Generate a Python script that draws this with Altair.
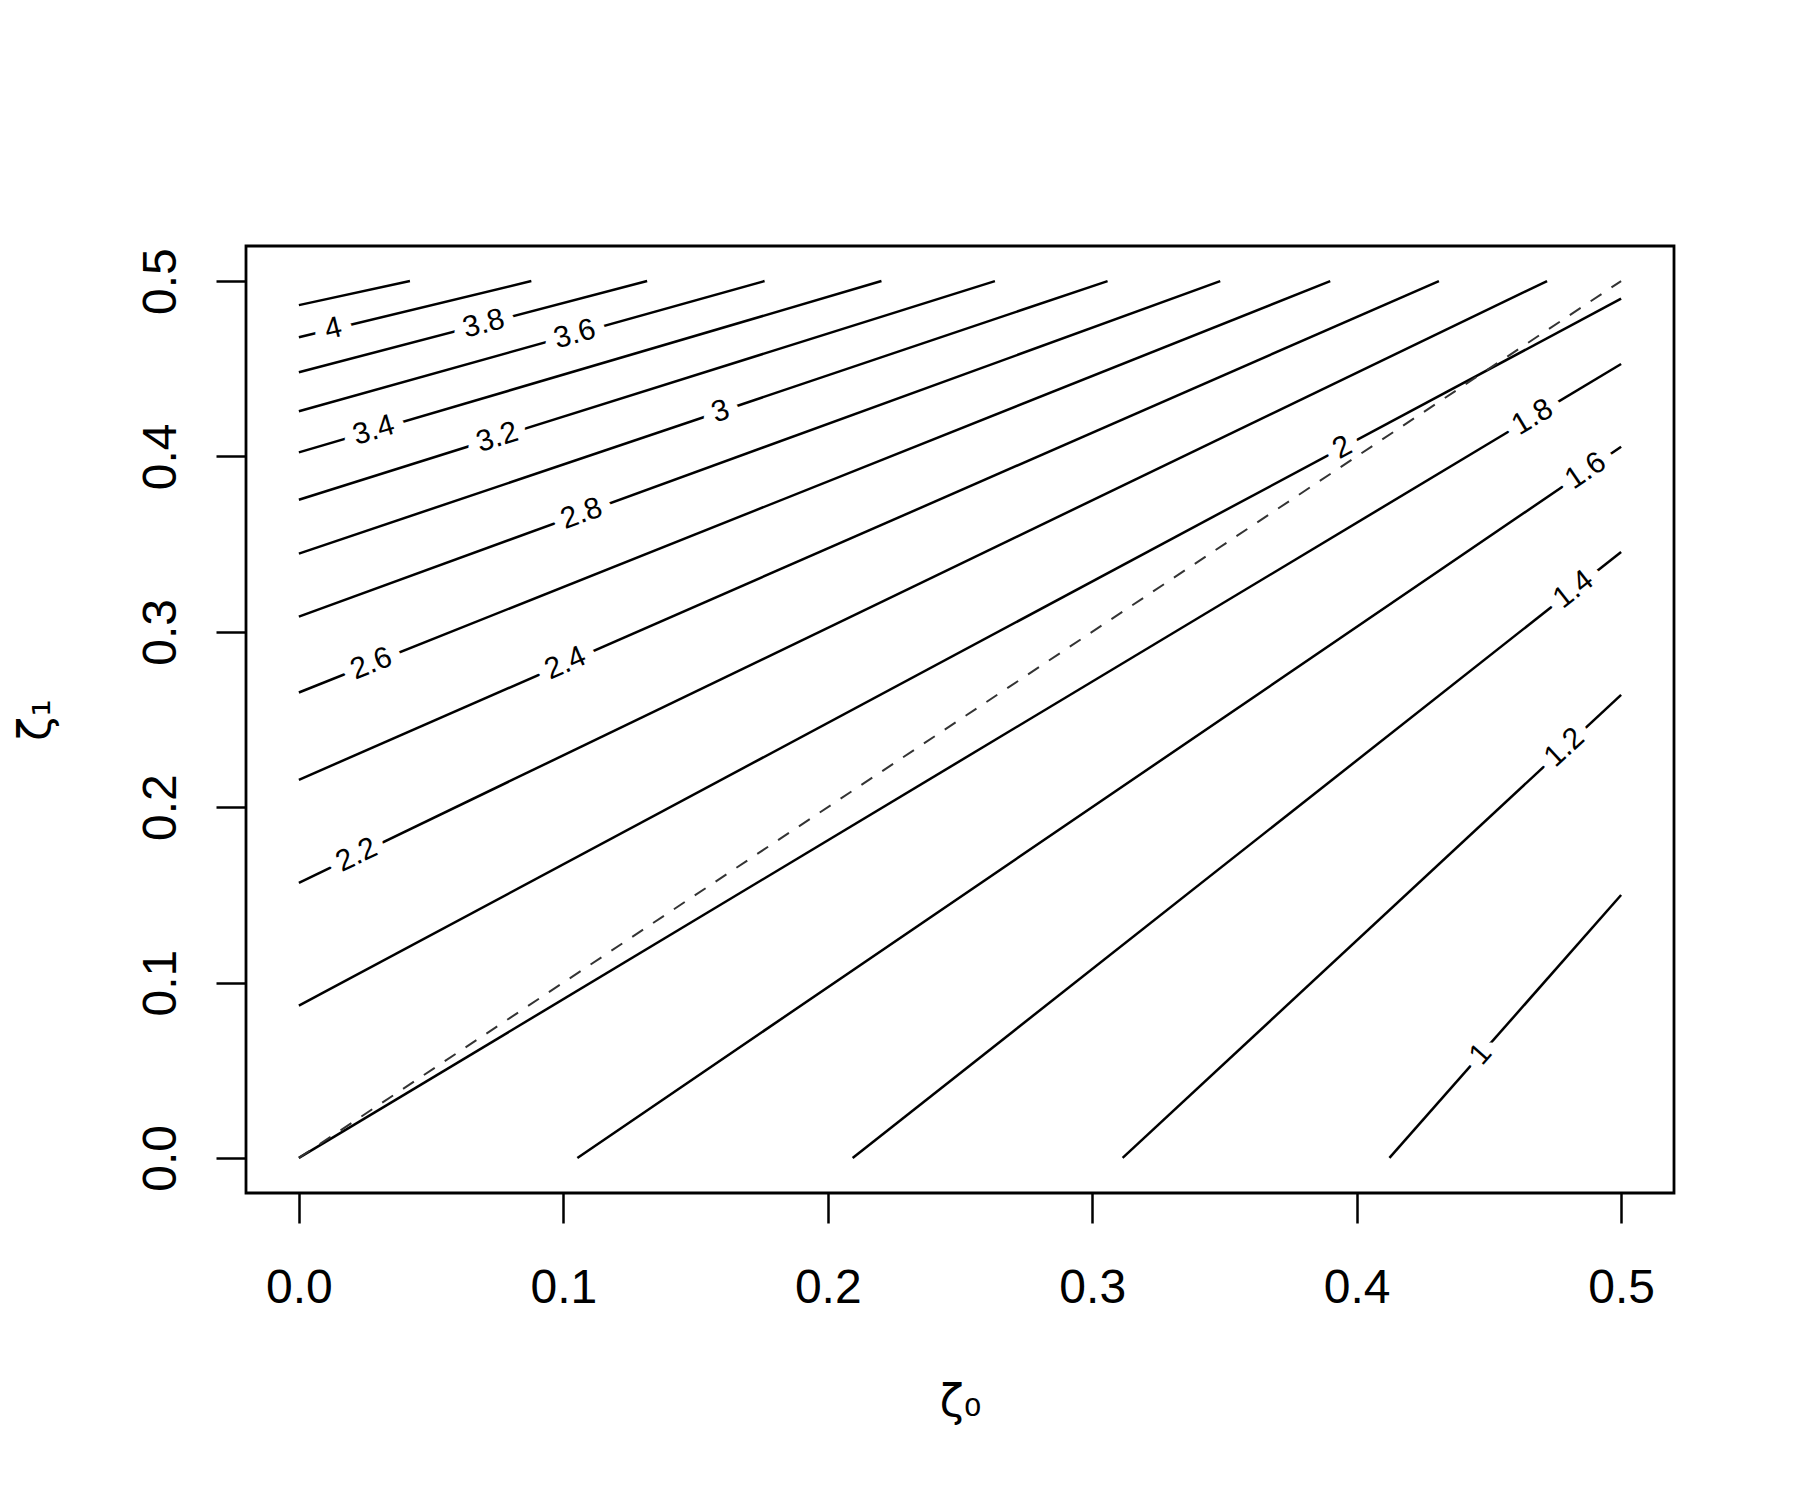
import math
import altair as alt
import pandas as pd

# ---- data ----
levels = [1.0, 1.2, 1.4, 1.6, 1.8, 2.0, 2.2, 2.4, 2.6, 2.8, 3.0, 3.2, 3.4, 3.6, 3.8, 4.0, 4.2]
start_x = [0.4124, 0.3115, 0.2094, 0.1053, 0.0, 0.0, 0.0, 0.0, 0.0, 0.0, 0.0, 0.0, 0.0, 0.0, 0.0, 0.0, 0.0]
start_y = [0.0, 0.0, 0.0, 0.0, 0.0, 0.0868, 0.1569, 0.2156, 0.2654, 0.3087, 0.3446, 0.3753, 0.4023, 0.4258, 0.448, 0.468, 0.4863]
end_x = [0.5, 0.5, 0.5, 0.5, 0.5, 0.5, 0.472, 0.4311, 0.390, 0.3484, 0.3058, 0.2632, 0.2203, 0.1761, 0.1317, 0.0879, 0.042]
end_y = [0.1499, 0.264, 0.3455, 0.4055, 0.4527, 0.490, 0.5, 0.5, 0.5, 0.5, 0.5, 0.5, 0.5, 0.5, 0.5, 0.5, 0.5]
# label position along each line (x in data units); None = unlabeled
label_x = [0.4469, 0.4786, 0.482, 0.4866, 0.4665, 0.3946, 0.0218, 0.1008, 0.0274, 0.1069, 0.1594,
           0.075, 0.0283, 0.1043, 0.0699, 0.013, None]
label_text = ["1", "1.2", "1.4", "1.6", "1.8", "2", "2.2", "2.4", "2.6", "2.8", "3", "3.2", "3.4", "3.6", "3.8", "4", ""]

diag_x = [0.0, 0.5]
diag_y = [0.0, 0.5]

x_ticks = [0.0, 0.1, 0.2, 0.3, 0.4, 0.5]
y_ticks = [0.0, 0.1, 0.2, 0.3, 0.4, 0.5]
domain = [-0.02, 0.52]

W, H = 1428, 947
sx = W / (domain[1] - domain[0])
sy = H / (domain[1] - domain[0])

# ---- tables ----
rows = []
for i, lv in enumerate(levels):
    rows.append({"level": lv, "ord": 0, "x": start_x[i], "y": start_y[i]})
    rows.append({"level": lv, "ord": 1, "x": end_x[i], "y": end_y[i]})
lines_df = pd.DataFrame(rows)

lab_rows = []
for i, lv in enumerate(levels):
    if label_x[i] is None:
        continue
    t = (label_x[i] - start_x[i]) / (end_x[i] - start_x[i])
    ly = start_y[i] + t * (end_y[i] - start_y[i])
    ang = math.degrees(math.atan2((end_y[i] - start_y[i]) * sy, (end_x[i] - start_x[i]) * sx))
    lab_rows.append({"x": label_x[i], "y": ly, "text": label_text[i], "angle": (360 - ang) % 360})
labels_df = pd.DataFrame(lab_rows)

diag_df = pd.DataFrame({"x": diag_x, "y": diag_y})

xs = alt.Scale(domain=domain, nice=False, zero=False)
ys = alt.Scale(domain=domain, nice=False, zero=False)

x_axis = alt.Axis(values=x_ticks, format=".1f", title="ζ₀", grid=False, domain=False,
                  tickSize=30, tickWidth=2.5, tickColor="black",
                  labelFontSize=48, labelFont="Liberation Sans", labelColor="black",
                  labelBaseline="alphabetic", labelPadding=79,
                  titleFont="DejaVu Sans", titleFontSize=44, titleFontWeight="normal",
                  titleColor="black", titleBaseline="alphabetic", titleAlign="center",
                  titleX=W / 2, titleY=222)
y_axis = alt.Axis(values=y_ticks, format=".1f", title="ζ₁", grid=False, domain=False,
                  tickSize=30, tickWidth=2.5, tickColor="black",
                  labelFontSize=48, labelFont="Liberation Sans", labelColor="black",
                  labelAngle=270, labelAlign="center", labelBaseline="alphabetic", labelPadding=41,
                  titleFont="DejaVu Sans", titleFontSize=44, titleFontWeight="normal",
                  titleColor="black", titleAngle=270, titleBaseline="alphabetic", titleAlign="center",
                  titleX=-197, titleY=H / 2)

lines = alt.Chart(lines_df).mark_line(color="black", strokeWidth=2.5).encode(
    x=alt.X("x:Q", scale=xs, axis=x_axis),
    y=alt.Y("y:Q", scale=ys, axis=y_axis),
    detail="level:N",
    order="ord:Q",
)

halo = alt.Chart(labels_df).mark_text(
    font="Liberation Sans", fontSize=30, color="white", stroke="white", strokeWidth=22,
    strokeJoin="round", align="center", baseline="middle"
).encode(
    x=alt.X("x:Q", scale=xs),
    y=alt.Y("y:Q", scale=ys),
    text="text:N",
    angle=alt.Angle("angle:Q", scale=None),
)

labels = alt.Chart(labels_df).mark_text(
    font="Liberation Sans", fontSize=30, color="black", align="center", baseline="middle"
).encode(
    x=alt.X("x:Q", scale=xs),
    y=alt.Y("y:Q", scale=ys),
    text="text:N",
    angle=alt.Angle("angle:Q", scale=None),
)

diag = alt.Chart(diag_df).mark_line(color="#333333", strokeWidth=2, strokeDash=[13, 12]).encode(
    x=alt.X("x:Q", scale=xs),
    y=alt.Y("y:Q", scale=ys),
)

chart = alt.layer(lines, halo, labels, diag).properties(
    width=W, height=H,
    autosize=alt.AutoSizeParams(type="none"),
    padding={"left": 238, "top": 238, "right": 100, "bottom": 250},
    background="white",
).configure_view(stroke="black", strokeWidth=2.8)

chart.save("out.html", embed_options={"renderer": "svg", "actions": False})
